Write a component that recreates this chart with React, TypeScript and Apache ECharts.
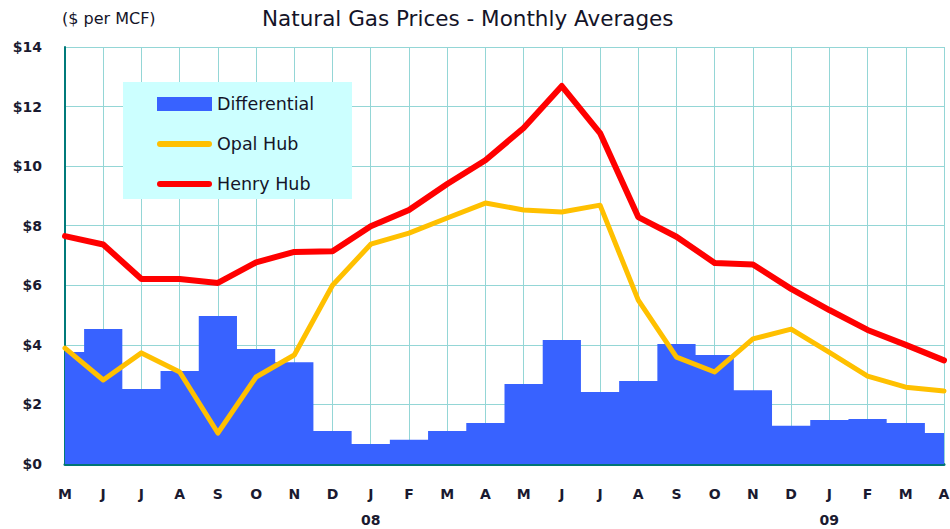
import React, { useEffect, useRef } from "react";
import * as echarts from "echarts";

const months = ["M", "J", "J", "A", "S", "O", "N", "D", "J", "F", "M", "A", "M", "J", "J", "A", "S", "O", "N", "D", "J", "F", "M", "A"];
const yearTags = ["", "", "", "", "", "", "", "", "08", "", "", "", "", "", "", "", "", "", "", "", "09", "", "", ""];
const differential = [3.76, 4.53, 2.52, 3.12, 4.97, 3.86, 3.42, 1.11, 0.67, 0.81, 1.11, 1.38, 2.69, 4.16, 2.42, 2.79, 4.03, 3.66, 2.48, 1.28, 1.48, 1.51, 1.38, 1.04];
const opalHub = [3.89, 2.82, 3.73, 3.09, 1.04, 2.92, 3.66, 6.0, 7.38, 7.75, 8.26, 8.76, 8.53, 8.46, 8.69, 5.5, 3.59, 3.09, 4.2, 4.53, 3.75, 2.95, 2.58, 2.45];
const henryHub = [7.65, 7.37, 6.21, 6.21, 6.08, 6.77, 7.12, 7.14, 7.98, 8.53, 9.4, 10.2, 11.28, 12.69, 11.11, 8.29, 7.63, 6.75, 6.7, 5.88, 5.17, 4.5, 4.0, 3.48];
const yTicks = { min: 0, max: 14, interval: 2 };

const FONT = "DejaVu Sans";
const LINE_ICON = "path://M3,0 L52,0 A3,3 0 0 1 52,6 L3,6 A3,3 0 0 1 3,0 Z";

export default function App() {
  const ref = useRef<HTMLDivElement>(null);
  useEffect(() => {
    if (!ref.current) return;
    const chart = echarts.init(ref.current, undefined, { renderer: "svg" });
    chart.setOption({
      animation: false,
      backgroundColor: "#ffffff",
      title: {
        text: "Natural Gas Prices - Monthly Averages",
        left: 262,
        top: 7,
        padding: 0,
        textStyle: { fontFamily: FONT, fontSize: 21.5, fontWeight: "normal", color: "#141428" },
      },
      graphic: [
        {
          type: "text",
          left: 62,
          top: 10,
          style: { text: "($ per MCF)", fontFamily: FONT, fontSize: 16, fill: "#141428" },
        },
        {
          type: "rect",
          z: 1,
          shape: { x: 123, y: 82, width: 229, height: 117 },
          style: { fill: "#CCFFFF" },
        },
      ],
      legend: {
        orient: "vertical",
        left: 157,
        top: 95,
        padding: 0,
        itemWidth: 55,
        itemHeight: 14,
        itemGap: 22,
        symbolKeepAspect: true,
        data: [
          { name: "Differential", icon: "rect" },
          { name: "Opal Hub", icon: LINE_ICON },
          { name: "Henry Hub", icon: LINE_ICON },
        ],
        textStyle: { fontFamily: FONT, fontSize: 17.5, color: "#141428" },
      },
      grid: { left: 65, right: 6, top: 47, bottom: 65, containLabel: false, outerBoundsMode: "none" },
      xAxis: {
        type: "category",
        boundaryGap: false,
        data: months,
        axisLine: { show: true, lineStyle: { color: "#007575", width: 3 } },
        axisTick: { show: false },
        axisLabel: {
          interval: 0,
          margin: 17,
          fontFamily: FONT,
          fontSize: 14,
          fontWeight: "bold",
          color: "#1a1a30",
          lineHeight: 26,
          formatter: (v: string, i: number) => (yearTags[i] ? `${v}\n${yearTags[i]}` : v),
        },
        splitLine: { show: true, lineStyle: { color: "#94d6d6", width: 1 } },
      },
      yAxis: {
        type: "value",
        min: yTicks.min,
        max: yTicks.max,
        interval: yTicks.interval,
        axisLine: { show: true, lineStyle: { color: "#007a7a", width: 2 } },
        axisTick: { show: false },
        axisLabel: {
          margin: 23,
          fontFamily: FONT,
          fontSize: 14,
          fontWeight: "bold",
          color: "#1a1a30",
          formatter: (v: number) => `$${v}`,
        },
        splitLine: { show: true, lineStyle: { color: "#94d6d6", width: 1 } },
      },
      series: [
        {
          name: "Differential",
          type: "line",
          step: "middle",
          data: differential,
          symbol: "none",
          itemStyle: { color: "#3862FF" },
          lineStyle: { width: 0, color: "#3862FF" },
          areaStyle: { color: "#3862FF", opacity: 1 },
          z: 2,
        },
        {
          name: "Opal Hub",
          type: "line",
          data: opalHub,
          symbol: "none",
          itemStyle: { color: "#FFC000" },
          lineStyle: { color: "#FFC000", width: 5, cap: "round", join: "round" },
          z: 3,
        },
        {
          name: "Henry Hub",
          type: "line",
          data: henryHub,
          symbol: "none",
          itemStyle: { color: "#FF0000" },
          lineStyle: { color: "#FF0000", width: 6, cap: "round", join: "round" },
          z: 4,
        },
      ],
    });
    return () => chart.dispose();
  }, []);
  return (
    <div
      ref={ref}
      style={{ position: "absolute", left: 0, top: 0, width: 950, height: 529, background: "#fff" }}
    />
  );
}
